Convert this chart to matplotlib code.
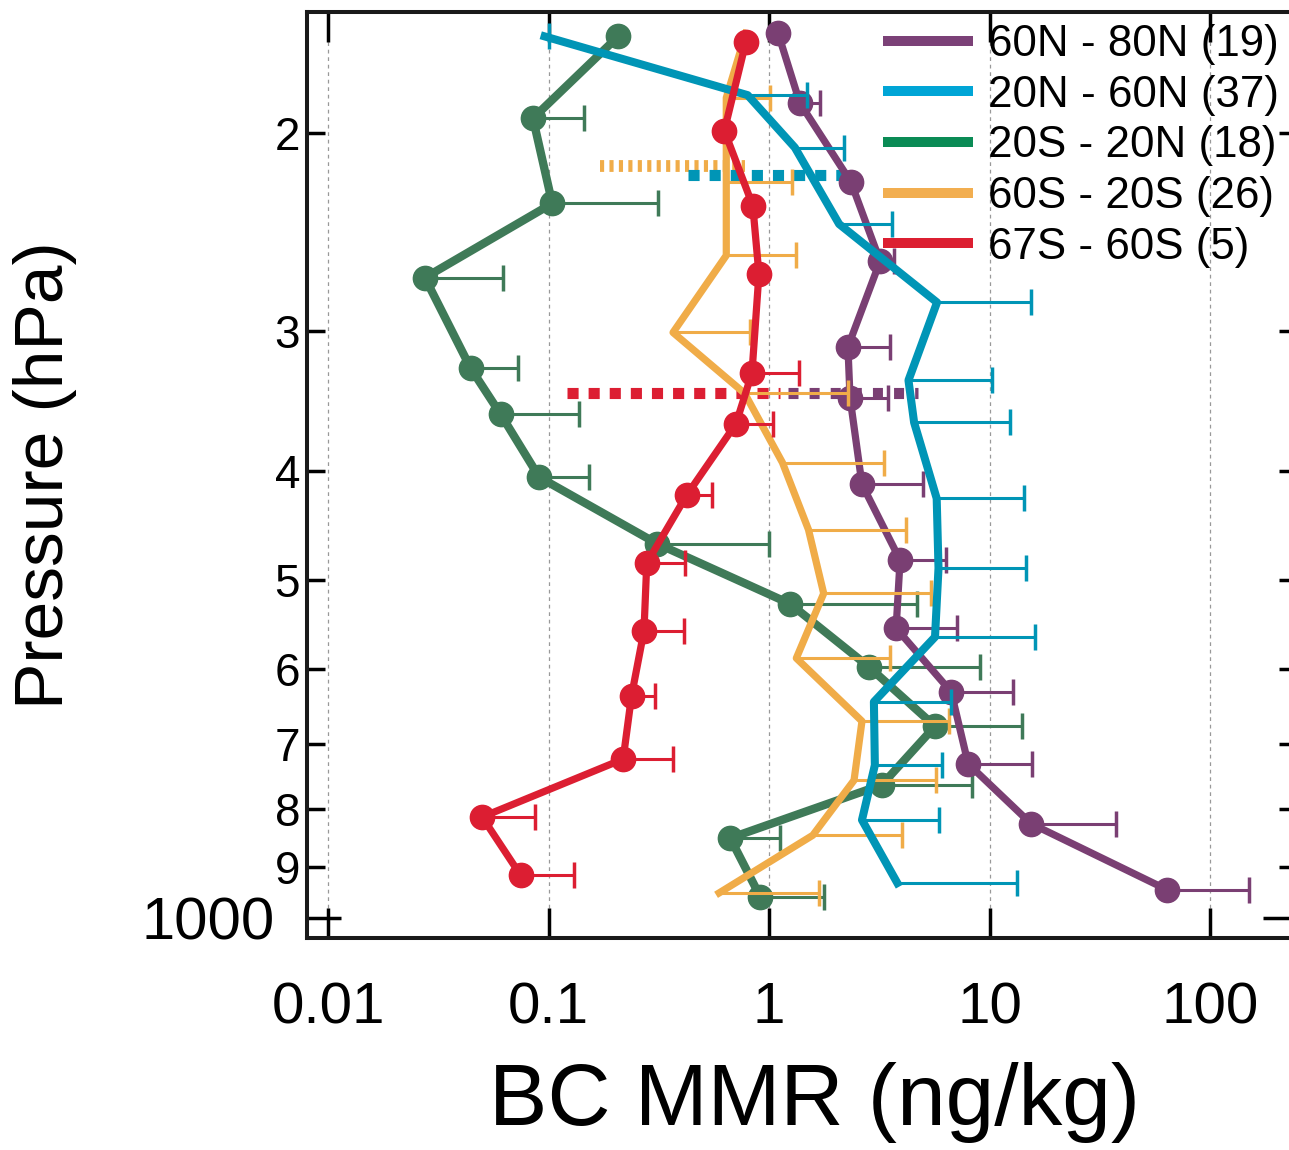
import numpy as np
import matplotlib
matplotlib.use('Agg')
import matplotlib.pyplot as plt
from matplotlib.lines import Line2D
from matplotlib.ticker import FixedLocator, FixedFormatter, NullLocator

plt.rcParams['font.family'] = ['Liberation Sans', 'DejaVu Sans']

# pressure (hPa), BC MMR (ng/kg) and the upper end of each error bar (nan = none)
p_60n80n = [163, 188, 221, 260, 310, 344, 411, 480, 552, 629, 729, 824, 944]
v_60n80n = [1.10, 1.38, 2.35, 3.19, 2.28, 2.33, 2.64, 3.93, 3.77, 6.7, 8.0, 15.4, 64]
e_60n80n = [np.nan, 1.70, np.nan, 3.7, 3.52, 3.46, 5.0, 6.35, 7.1, 12.8, 15.6, 37.5, 150]

p_20n60n = [164, 185, 206, 241, 283, 332, 362, 423, 488, 562, 642, 731, 818, 931]
v_20n60n = [0.096, 0.80, 1.31, 2.08, 5.78, 4.29, 4.55, 5.76, 5.87, 5.66, 2.99, 3.02, 2.64, 3.82]
e_20n60n = [0.10, 1.49, 2.18, 3.61, 15.4, 10.3, 12.4, 14.3, 14.6, 16.0, 6.69, 6.09, 5.9, 13.3]

p_20s20n = [164, 194, 231, 269, 324, 356, 405, 464, 525, 598, 675, 761, 849, 958]
v_20s20n = [0.207, 0.085, 0.104, 0.0275, 0.0444, 0.0607, 0.0908, 0.31, 1.245, 2.85, 5.66, 3.25, 0.667, 0.914]
e_20s20n = [np.nan, 0.145, 0.313, 0.062, 0.0727, 0.1375, 0.153, 1.0, 4.69, 9.06, 14.1, 8.37, 1.12, 1.77]

p_60s20s = [163, 186, 221, 257, 301, 341, 393, 451, 514, 587, 668, 754, 844, 950]
v_60s20s = [0.784, 0.64, 0.64, 0.64, 0.367, 0.775, 1.15, 1.51, 1.77, 1.33, 2.64, 2.43, 1.58, 0.594]
e_60s20s = [np.nan, 1.01, 1.27, 1.33, 0.82, 2.28, 3.32, 4.17, 5.43, 3.54, 6.54, 5.7, 4.0, 1.68]

p_67s60s = [166, 199, 232, 267, 327, 363, 420, 483, 555, 634, 722, 813, 916]
v_67s60s = [0.785, 0.627, 0.844, 0.90, 0.837, 0.708, 0.424, 0.279, 0.271, 0.238, 0.218, 0.050, 0.0747]
e_67s60s = [np.nan, np.nan, np.nan, np.nan, 1.37, 1.04, 0.55, 0.416, 0.413, 0.304, 0.366, 0.0868, 0.131]

# dotted horizontal markers: pressure, x start, x end
dot_60s20s = (214, 0.171, 0.778)
dot_20n60n = (218, 0.43, 2.45)
dot_67s60s = (341, 0.121, 1.12)
dot_60n80n = (341, 1.22, 4.74)

labels = ['60N - 80N (19)', '20N - 60N (37)', '20S - 20N (18)', '60S - 20S (26)', '67S - 60S (5)']
line_colors = ['#7a3f73', '#0095b6', '#3f7a58', '#f0ac48', '#dc1e32']
legend_colors = ['#7b4177', '#00a5d6', '#0a8b55', '#f2ae50', '#dc1f31']


def draw_profile(ax, p, v, err, color, lw, marker, z):
    p = np.array(p, float)
    v = np.array(v, float)
    err = np.array(err, float)
    ok = ~np.isnan(err)
    ax.hlines(p[ok], v[ok], err[ok], color=color, lw=2.2, zorder=z - 0.5)
    ax.plot(err[ok], p[ok], ls='none', marker='|', ms=19, mew=2.5, color=color, zorder=z - 0.5)
    ax.plot(v, p, color=color, lw=lw, marker=marker, ms=17.5, zorder=z)


def draw_dotted(ax, d, color, dashes, lw=8):
    ax.plot([d[1], d[2]], [d[0], d[0]], color=color, lw=lw, ls=(0, dashes),
            solid_capstyle='butt', dash_capstyle='butt', zorder=2)


fig = plt.figure(figsize=(12.89, 11.5), dpi=100)
ax = fig.add_axes([307 / 1289, 1 - 938 / 1150, 990 / 1289, 926 / 1150])

draw_dotted(ax, dot_60s20s, line_colors[3], (0.35, 0.45), lw=8.5)
draw_dotted(ax, dot_20n60n, line_colors[1], (1.0, 0.9))
draw_dotted(ax, dot_67s60s, line_colors[4], (1.0, 0.9))
draw_dotted(ax, dot_60n80n, line_colors[0], (0.9, 1.0))

draw_profile(ax, p_20s20n, v_20s20n, e_20s20n, line_colors[2], 6.0, 'o', 3)
draw_profile(ax, p_60n80n, v_60n80n, e_60n80n, line_colors[0], 5.2, 'o', 4)
draw_profile(ax, p_60s20s, v_60s20s, e_60s20s, line_colors[3], 5.2, None, 5)
draw_profile(ax, p_20n60n, v_20n60n, e_20n60n, line_colors[1], 5.8, None, 6)
draw_profile(ax, p_67s60s, v_67s60s, e_67s60s, line_colors[4], 5.2, 'o', 7)

ax.set_xscale('log')
ax.set_xlim(0.00803, 248)
ax.xaxis.set_major_locator(FixedLocator([0.01, 0.1, 1, 10, 100]))
ax.xaxis.set_major_formatter(FixedFormatter(['0.01', '0.1', '1', '10', '100']))
ax.xaxis.set_minor_locator(NullLocator())
ax.tick_params(axis='x', which='major', direction='in', length=21.6, width=2.5,
               top=True, bottom=True, labelsize=42, pad=31)

ax.set_yscale('log')
ax.set_ylim(1042, 156)
ax.yaxis.set_major_locator(FixedLocator([1000]))
ax.yaxis.set_major_formatter(FixedFormatter(['1000']))
ax.yaxis.set_minor_locator(FixedLocator([200, 300, 400, 500, 600, 700, 800, 900]))
ax.yaxis.set_minor_formatter(FixedFormatter(['2', '3', '4', '5', '6', '7', '8', '9']))
ax.tick_params(axis='y', which='major', direction='in', length=24.5, width=2.5,
               left=True, right=True, labelsize=43, pad=23)
ax.tick_params(axis='y', which='minor', direction='in', length=13, width=2.5,
               left=True, right=True, labelsize=33, pad=5)

ax.grid(axis='x', which='major', ls=(0, (3, 3)), color='#999999', lw=0.9)
for s in ['left', 'bottom', 'top']:
    ax.spines[s].set_linewidth(2.9)
    ax.spines[s].set_color('#1a1a1a')
ax.spines['right'].set_visible(False)

ax.set_xlabel('BC MMR (ng/kg)', fontsize=63, va='center')
ax.xaxis.set_label_coords(0.513, -0.178)
ax.set_ylabel('Pressure (hPa)', fontsize=50, va='center')
ax.yaxis.set_label_coords(-0.2646, 0.5)

handles = [Line2D([], [], color=c, lw=7.2) for c in legend_colors]
ax.legend(handles, labels, loc='upper left', bbox_to_anchor=(888 / 1289, 1 - 24 / 1150),
          bbox_transform=fig.transFigure, frameon=False, fontsize=31.6,
          handlelength=1.82, handletextpad=0.46, labelspacing=0.22,
          borderpad=0, borderaxespad=0)

fig.savefig('out.png', dpi=100)
